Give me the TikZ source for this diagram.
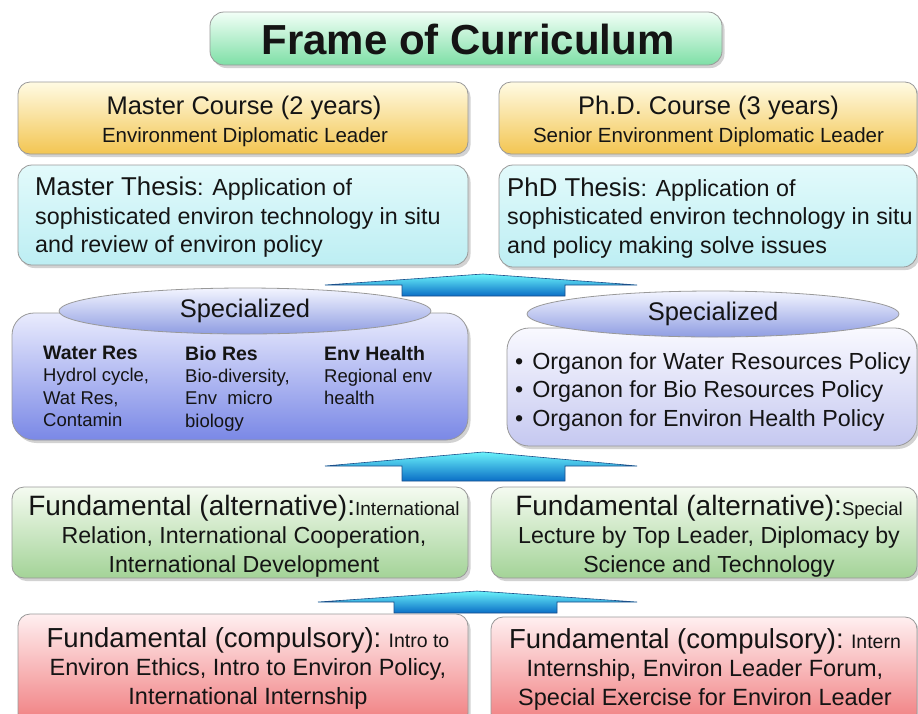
\documentclass[tikz,border=0pt]{standalone}
\usepackage{fontspec}
\setmainfont{Liberation Sans}
\usetikzlibrary{shapes.geometric,shadows}
\newcommand{\myfs}[2]{\fontsize{#1}{#2}\selectfont}
\definecolor{TitleTop}{HTML}{F2FFF7}
\definecolor{TitleBot}{HTML}{7EDFA6}
\definecolor{CourseTop}{HTML}{FFFBE3}
\definecolor{CourseBot}{HTML}{F3C552}
\definecolor{ThesisTop}{HTML}{E2FAFB}
\definecolor{ThesisBot}{HTML}{BDEEF3}
\definecolor{SpecLTop}{HTML}{E9EBFD}
\definecolor{SpecLBot}{HTML}{7A88E6}
\definecolor{SpecRTop}{HTML}{F9F9FF}
\definecolor{SpecRBot}{HTML}{C5C8F0}
\definecolor{EllTop}{HTML}{F3F5FF}
\definecolor{EllBot}{HTML}{8F9DE2}
\definecolor{AltTop}{HTML}{F5FBF1}
\definecolor{AltBot}{HTML}{A3D397}
\definecolor{CompTop}{HTML}{FFEFF0}
\definecolor{CompBot}{HTML}{F07C7E}
\definecolor{ArrowTop}{HTML}{6AF2FA}
\definecolor{ArrowBot}{HTML}{0A6EC6}
\definecolor{ArrowEdge}{HTML}{1B4F8A}
\begin{document}
\begin{tikzpicture}[x=1pt,y=-1pt,
  panel/.style={draw=black!40, line width=0.8pt, rounded corners=12pt, inner sep=0pt,
    drop shadow={shadow xshift=2.5pt,shadow yshift=-3pt,opacity=0.35}},
  txt/.style={inner sep=0pt, text=black!92},
  upshape/.style={draw=ArrowEdge, line width=0.6pt, top color=ArrowTop, bottom color=ArrowBot},
  ovalbox/.style={ellipse, draw=black!40, line width=0.8pt, top color=EllTop, bottom color=EllBot,
    minimum width=372pt, minimum height=46pt, inner sep=0pt, text=black!92, font=\myfs{25.5}{30}},
]
\useasboundingbox[fill=white] (0,0) rectangle (918,713);

% title
\node[panel, rounded corners=14pt, top color=TitleTop, bottom color=TitleBot,
  minimum width=512pt, minimum height=53pt] (titlebox) at (466,38.5) {};
\node[txt, font=\bfseries\myfs{42}{50}] (ttl) at (468,39) {Frame of Curriculum};

% course boxes
\node[panel, top color=CourseTop, bottom color=CourseBot, minimum width=450pt, minimum height=72pt] (mcourse) at (243,118) {};
\node[panel, top color=CourseTop, bottom color=CourseBot, minimum width=418pt, minimum height=72pt] (pcourse) at (708,118) {};
\node[txt, font=\myfs{25.5}{30}] (mc1) at (244,108) {Master Course (2 years)};
\node[txt, font=\myfs{20.5}{24}] (mc2) at (245,137) {Environment Diplomatic Leader};
\node[txt, font=\myfs{25.5}{30}] (pc1) at (708.5,108) {Ph.D. Course (3 years)};
\node[txt, font=\myfs{20.5}{24}] (pc2) at (708.5,137) {Senior Environment Diplomatic Leader};

% thesis boxes
\node[panel, rounded corners=14pt, top color=ThesisTop, bottom color=ThesisBot, minimum width=450pt, minimum height=100pt] (mthesis) at (243,215) {};
\node[panel, rounded corners=14pt, top color=ThesisTop, bottom color=ThesisBot, minimum width=418pt, minimum height=102pt] (pthesis) at (708,216) {};
\node[txt, align=left, anchor=west, font=\myfs{23.3}{28.5}] (mt) at (35,217.5)
  {{\myfs{25.8}{28.5}Master Thesis}: Application of\\sophisticated environ technology in situ\\and review of environ policy};
\node[txt, align=left, anchor=west, font=\myfs{23.3}{28.5}] (pt) at (507,218)
  {{\myfs{25.8}{28.5}PhD Thesis}: Application of\\sophisticated environ technology in situ\\and policy making solve issues};

% arrow 1
\path[upshape] (325,285) -- (483,274) -- (637,285) -- (565,285) -- (565,296) -- (402,296) -- (402,285) -- cycle;

% specialized boxes
\node[panel, rounded corners=22pt, top color=SpecLTop, bottom color=SpecLBot, minimum width=456pt, minimum height=127pt] (specL) at (240,376.5) {};
\node[panel, rounded corners=22pt, top color=SpecRTop, bottom color=SpecRBot, minimum width=410pt, minimum height=118pt] (specR) at (712,387) {};
\node[ovalbox] (ellL) at (245,311) {Specialized};
\node[ovalbox] (ellR) at (713,314) {Specialized};

\node[txt, align=left, anchor=north west, font=\myfs{18.5}{22.3}] (colA) at (43,346)
  {{\bfseries\myfs{19.5}{22.3}Water Res}\\Hydrol cycle,\\Wat Res,\\Contamin};
\node[txt, align=left, anchor=north west, font=\myfs{18.5}{22.3}] (colB) at (185,346)
  {{\bfseries\myfs{19.5}{22.3}Bio Res}\\Bio-diversity,\\Env\ \ micro\\biology};
\node[txt, align=left, anchor=north west, font=\myfs{18.5}{22.3}] (colC) at (324,346)
  {{\bfseries\myfs{19.5}{22.3}Env Health}\\Regional env\\health};
\node[txt, align=left, anchor=north west, font=\myfs{23.3}{28.5}] (orglist) at (515,352)
  {\textbullet\hspace{9pt}Organon for Water Resources Policy\\
   \textbullet\hspace{9pt}Organon for Bio Resources Policy\\
   \textbullet\hspace{9pt}Organon for Environ Health Policy};

% arrow 2
\path[upshape] (325,466) -- (483,452) -- (637,466) -- (565,466) -- (565,481) -- (402,481) -- (402,466) -- cycle;

% fundamental alternative
\node[panel, top color=AltTop, bottom color=AltBot, minimum width=456pt, minimum height=91pt] (altL) at (240,532.5) {};
\node[panel, top color=AltTop, bottom color=AltBot, minimum width=426pt, minimum height=91pt] (altR) at (704,532.5) {};
\node[txt, align=center, font=\myfs{23.2}{28.5}] (altLt) at (244,536)
  {{\myfs{28}{28.5}Fundamental (alternative):}{\myfs{19}{28.5}International}\\Relation, International Cooperation,\\International Development};
\node[txt, align=center, font=\myfs{23.2}{28.5}] (altRt) at (709,536)
  {{\myfs{28}{28.5}Fundamental (alternative):}{\myfs{18.5}{28.5}Special}\\Lecture by Top Leader, Diplomacy by\\Science and Technology};

% arrow 3
\path[upshape] (318,602) -- (477,591) -- (637,602) -- (557,602) -- (557,613) -- (394,613) -- (394,602) -- cycle;

% fundamental compulsory
\node[panel, top color=CompTop, bottom color=CompBot, minimum width=450pt, minimum height=111pt] (compL) at (243,669.5) {};
\node[panel, top color=CompTop, bottom color=CompBot, minimum width=426pt, minimum height=108pt] (compR) at (704,671) {};
\node[txt, align=center, font=\myfs{23.5}{28.5}] (compLt) at (248,668)
  {{\myfs{27.5}{28.5}Fundamental (compulsory):}{\myfs{19.5}{28.5} Intro to}\\Environ Ethics, Intro to Environ Policy,\\International Internship};
\node[txt, align=center, font=\myfs{23.5}{28.5}] (compRt) at (705,669)
  {{\myfs{27.5}{28.5}Fundamental (compulsory):}{\myfs{19.5}{28.5} Intern}\\Internship, Environ Leader Forum,\\Special Exercise for Environ Leader};
\end{tikzpicture}
\end{document}
